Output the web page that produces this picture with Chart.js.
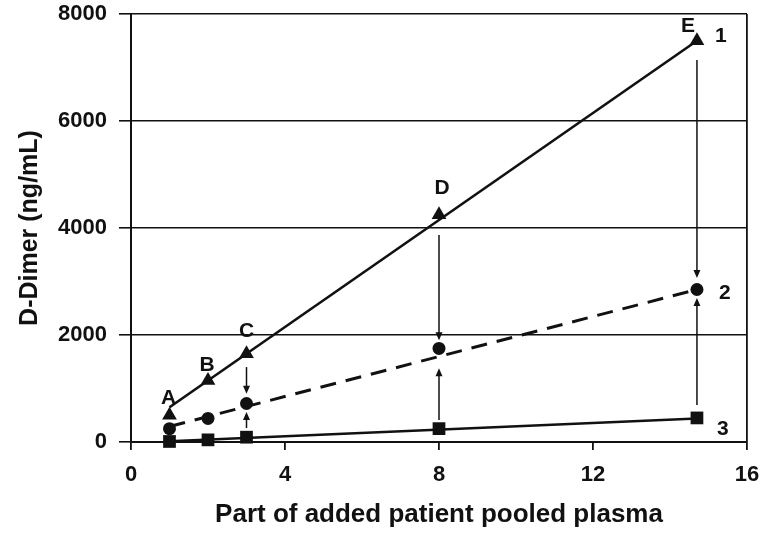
<!DOCTYPE html>
<html>
<head>
<meta charset="utf-8">
<script src="https://cdn.jsdelivr.net/npm/chart.js@4/dist/chart.umd.min.js"></script>
<style>
  html, body { margin: 0; padding: 0; background: #fff; }
  #wrap { width: 763px; height: 533px; }
</style>
</head>
<body>
<div id="wrap"><canvas id="c" width="763" height="533"></canvas></div>
<script>
// Parts of patient pooled plasma added to each mix
const xValues = [1, 2, 3, 8, 14.7];
// Measured D-Dimer (ng/mL) for each assay
const triangleValues = [500, 1150, 1650, 4250, 7500];
const circleValues = [250, 440, 720, 1750, 2850];
const squareValues = [10, 40, 90, 250, 450];

// Fitted straight lines, end points
const fitX = [1, 14.7];
const fit1 = [650, 7500];
const fit2 = [290, 2850];
const fit3 = [15, 440];

// Vertical arrows between the curves (x, from, to)
const arrowX = [3, 3, 8, 8, 14.7, 14.7];
const arrowFrom = [1400, 260, 3870, 410, 7140, 690];
const arrowTo = [900, 560, 1900, 1380, 3065, 2690];

const pointLetters = ['A', 'B', 'C', 'D', 'E'];
const seriesNames = ['1', '2', '3'];
const xTicks = [0, 4, 8, 12, 16];
const yTicks = [0, 2000, 4000, 6000, 8000];

const INK = '#111';
const FONT = '"Liberation Sans", Arial, sans-serif';

const toPoints = (xs, ys) => xs.map((x, i) => ({ x: x, y: ys[i] }));

// Letters above the triangles and curve numbers, offsets in pixels
const letterOffsets = [[-1, -17], [-1, -15], [0, -23], [3, -26], [-9, -15]];
const nameAnchors = [
  { ds: 0, idx: 4, dx: 24, dy: -5 },
  { ds: 1, idx: 4, dx: 28, dy: 4 },
  { ds: 2, idx: 4, dx: 26, dy: 11 }
];

const annotations = {
  id: 'annotations',
  afterDatasetsDraw(chart) {
    const ctx = chart.ctx;
    const xs = chart.scales.x, ys = chart.scales.y;
    ctx.save();
    ctx.strokeStyle = INK;
    ctx.fillStyle = INK;
    ctx.lineWidth = 1.5;
    arrowX.forEach((xv, i) => {
      const px = xs.getPixelForValue(xv);
      const y0 = ys.getPixelForValue(arrowFrom[i]);
      const y1 = ys.getPixelForValue(arrowTo[i]);
      const dir = y1 > y0 ? 1 : -1;
      const headLen = 8, headW = 3.5;
      ctx.beginPath();
      ctx.moveTo(px, y0);
      ctx.lineTo(px, y1 - dir * headLen * 0.8);
      ctx.stroke();
      ctx.beginPath();
      ctx.moveTo(px, y1);
      ctx.lineTo(px - headW, y1 - dir * headLen);
      ctx.lineTo(px + headW, y1 - dir * headLen);
      ctx.closePath();
      ctx.fill();
    });

    ctx.font = 'bold 21px ' + FONT;
    ctx.textAlign = 'center';
    ctx.textBaseline = 'middle';
    const tri = chart.getDatasetMeta(0).data;
    pointLetters.forEach((t, i) => {
      const p = tri[i];
      ctx.fillText(t, p.x + letterOffsets[i][0], p.y + letterOffsets[i][1]);
    });
    nameAnchors.forEach((a, i) => {
      const p = chart.getDatasetMeta(a.ds).data[a.idx];
      ctx.fillText(seriesNames[i], p.x + a.dx, p.y + a.dy);
    });
    ctx.restore();
  }
};

const markerBase = {
  showLine: false,
  backgroundColor: INK,
  borderColor: INK,
  borderWidth: 0,
  clip: false
};
const lineBase = {
  type: 'line',
  showLine: true,
  pointRadius: 0,
  borderColor: INK,
  borderWidth: 2.6,
  fill: false,
  clip: false
};

new Chart(document.getElementById('c'), {
  type: 'scatter',
  data: {
    datasets: [
      Object.assign({}, markerBase, { label: seriesNames[0], data: toPoints(xValues, triangleValues), pointStyle: 'triangle', pointRadius: 8.5 }),
      Object.assign({}, markerBase, { label: seriesNames[1], data: toPoints(xValues, circleValues), pointStyle: 'circle', pointRadius: 6.5 }),
      Object.assign({}, markerBase, { label: seriesNames[2], data: toPoints(xValues, squareValues), pointStyle: 'rect', pointRadius: 9 }),
      Object.assign({}, lineBase, { data: toPoints(fitX, fit1) }),
      Object.assign({}, lineBase, { data: toPoints(fitX, fit2), borderDash: [16, 10], borderWidth: 3 }),
      Object.assign({}, lineBase, { data: toPoints(fitX, fit3) })
    ]
  },
  options: {
    responsive: false,
    animation: false,
    events: [],
    layout: { padding: { left: 15, right: 16, top: 14, bottom: 0 } },
    plugins: { legend: { display: false }, tooltip: { enabled: false } },
    scales: {
      x: {
        type: 'linear',
        min: 0,
        max: 16,
        afterBuildTicks(scale) { scale.ticks = xTicks.map(v => ({ value: v })); },
        afterFit(scale) { scale.height = 91; scale.paddingLeft = 0; scale.paddingRight = 0; },
        ticks: { color: INK, padding: 12, callback: (v) => String(v), font: { family: FONT, size: 22, weight: 'bold' } },
        grid: {
          drawOnChartArea: true,
          color: (c) => (c.tick && c.tick.value === 16 ? INK : 'rgba(0,0,0,0)'),
          lineWidth: 1.8,
          drawTicks: true,
          tickLength: 8,
          tickColor: INK,
          tickWidth: 1.8
        },
        border: { display: true, color: INK, width: 2 },
        title: {
          display: true,
          text: 'Part of added patient pooled plasma',
          color: INK,
          font: { family: FONT, size: 26, weight: 'bold' },
          padding: { top: 0, bottom: 3 }
        }
      },
      y: {
        type: 'linear',
        min: 0,
        max: 8000,
        afterBuildTicks(scale) { scale.ticks = yTicks.map(v => ({ value: v })); },
        afterFit(scale) { scale.width = 116; scale.paddingTop = 0; scale.paddingBottom = 0; },
        ticks: { color: INK, padding: 12, callback: (v) => String(v), font: { family: FONT, size: 22, weight: 'bold' } },
        grid: {
          color: INK,
          lineWidth: 1.6,
          drawTicks: true,
          tickLength: 12,
          tickColor: INK,
          tickWidth: 1.6
        },
        border: { display: true, color: INK, width: 2 },
        title: {
          display: true,
          text: 'D-Dimer (ng/mL)',
          color: INK,
          font: { family: FONT, size: 25, weight: 'bold' },
          padding: { top: 0, bottom: 0 }
        }
      }
    }
  },
  plugins: [annotations]
});
</script>
</body>
</html>
